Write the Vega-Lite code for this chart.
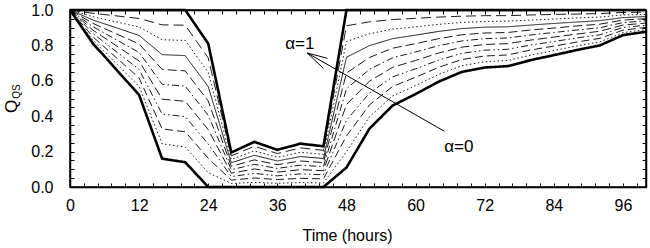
{
  "$schema": "https://vega.github.io/schema/vega-lite/v6.json",
  "width": 576,
  "height": 177,
  "autosize": "none",
  "padding": {"left": 70, "top": 10, "right": 4, "bottom": 61},
  "background": "white",
  "config": {
    "view": {"stroke": "black", "strokeWidth": 1.5},
    "font": "Liberation Sans",
    "axis": {
      "grid": false,
      "domainColor": "black",
      "domainWidth": 1.5,
      "tickColor": "black",
      "tickWidth": 1,
      "tickSize": -4,
      "labelFont": "Liberation Sans",
      "labelFontSize": 16,
      "labelColor": "black",
      "labelOverlap": false,
      "labelFlush": false,
      "titleFont": "Liberation Sans",
      "titleFontWeight": "normal",
      "titleColor": "black"
    }
  },
  "layer": [
    {
      "data": {"values": [
        {"a":"0","t":0,"q":1},{"a":"0","t":4,"q":0.81},{"a":"0","t":8,"q":0.665},{"a":"0","t":12,"q":0.52},{"a":"0","t":16,"q":0.16},{"a":"0","t":20,"q":0.14},{"a":"0","t":24,"q":0},{"a":"0","t":28,"q":0},{"a":"0","t":32,"q":0},{"a":"0","t":36,"q":0},{"a":"0","t":40,"q":0},{"a":"0","t":44,"q":0},{"a":"0","t":48,"q":0.11},{"a":"0","t":52,"q":0.33},{"a":"0","t":56,"q":0.46},{"a":"0","t":60,"q":0.525},{"a":"0","t":64,"q":0.595},{"a":"0","t":68,"q":0.65},{"a":"0","t":72,"q":0.675},{"a":"0","t":76,"q":0.683},{"a":"0","t":80,"q":0.717},{"a":"0","t":84,"q":0.745},{"a":"0","t":88,"q":0.774},{"a":"0","t":92,"q":0.8},{"a":"0","t":96,"q":0.858},{"a":"0","t":100,"q":0.877},
        {"a":"0.1","t":0,"q":1},{"a":"0.1","t":4,"q":0.829},{"a":"0.1","t":8,"q":0.699},{"a":"0.1","t":12,"q":0.568},{"a":"0.1","t":16,"q":0.244},{"a":"0.1","t":20,"q":0.226},{"a":"0.1","t":24,"q":0.081},{"a":"0.1","t":28,"q":0.02},{"a":"0.1","t":32,"q":0.026},{"a":"0.1","t":36,"q":0.021},{"a":"0.1","t":40,"q":0.025},{"a":"0.1","t":44,"q":0.023},{"a":"0.1","t":48,"q":0.199},{"a":"0.1","t":52,"q":0.397},{"a":"0.1","t":56,"q":0.514},{"a":"0.1","t":60,"q":0.573},{"a":"0.1","t":64,"q":0.636},{"a":"0.1","t":68,"q":0.685},{"a":"0.1","t":72,"q":0.708},{"a":"0.1","t":76,"q":0.715},{"a":"0.1","t":80,"q":0.745},{"a":"0.1","t":84,"q":0.771},{"a":"0.1","t":88,"q":0.797},{"a":"0.1","t":92,"q":0.82},{"a":"0.1","t":96,"q":0.872},{"a":"0.1","t":100,"q":0.889},
        {"a":"0.2","t":0,"q":1},{"a":"0.2","t":4,"q":0.848},{"a":"0.2","t":8,"q":0.732},{"a":"0.2","t":12,"q":0.616},{"a":"0.2","t":16,"q":0.328},{"a":"0.2","t":20,"q":0.312},{"a":"0.2","t":24,"q":0.162},{"a":"0.2","t":28,"q":0.039},{"a":"0.2","t":32,"q":0.051},{"a":"0.2","t":36,"q":0.042},{"a":"0.2","t":40,"q":0.049},{"a":"0.2","t":44,"q":0.046},{"a":"0.2","t":48,"q":0.288},{"a":"0.2","t":52,"q":0.464},{"a":"0.2","t":56,"q":0.568},{"a":"0.2","t":60,"q":0.62},{"a":"0.2","t":64,"q":0.676},{"a":"0.2","t":68,"q":0.72},{"a":"0.2","t":72,"q":0.74},{"a":"0.2","t":76,"q":0.746},{"a":"0.2","t":80,"q":0.774},{"a":"0.2","t":84,"q":0.796},{"a":"0.2","t":88,"q":0.819},{"a":"0.2","t":92,"q":0.84},{"a":"0.2","t":96,"q":0.886},{"a":"0.2","t":100,"q":0.902},
        {"a":"0.3","t":0,"q":1},{"a":"0.3","t":4,"q":0.867},{"a":"0.3","t":8,"q":0.766},{"a":"0.3","t":12,"q":0.664},{"a":"0.3","t":16,"q":0.412},{"a":"0.3","t":20,"q":0.398},{"a":"0.3","t":24,"q":0.243},{"a":"0.3","t":28,"q":0.059},{"a":"0.3","t":32,"q":0.077},{"a":"0.3","t":36,"q":0.063},{"a":"0.3","t":40,"q":0.074},{"a":"0.3","t":44,"q":0.069},{"a":"0.3","t":48,"q":0.377},{"a":"0.3","t":52,"q":0.531},{"a":"0.3","t":56,"q":0.622},{"a":"0.3","t":60,"q":0.668},{"a":"0.3","t":64,"q":0.717},{"a":"0.3","t":68,"q":0.755},{"a":"0.3","t":72,"q":0.773},{"a":"0.3","t":76,"q":0.778},{"a":"0.3","t":80,"q":0.802},{"a":"0.3","t":84,"q":0.822},{"a":"0.3","t":88,"q":0.842},{"a":"0.3","t":92,"q":0.86},{"a":"0.3","t":96,"q":0.901},{"a":"0.3","t":100,"q":0.914},
        {"a":"0.4","t":0,"q":1},{"a":"0.4","t":4,"q":0.886},{"a":"0.4","t":8,"q":0.799},{"a":"0.4","t":12,"q":0.712},{"a":"0.4","t":16,"q":0.496},{"a":"0.4","t":20,"q":0.484},{"a":"0.4","t":24,"q":0.324},{"a":"0.4","t":28,"q":0.078},{"a":"0.4","t":32,"q":0.102},{"a":"0.4","t":36,"q":0.084},{"a":"0.4","t":40,"q":0.098},{"a":"0.4","t":44,"q":0.092},{"a":"0.4","t":48,"q":0.466},{"a":"0.4","t":52,"q":0.598},{"a":"0.4","t":56,"q":0.676},{"a":"0.4","t":60,"q":0.715},{"a":"0.4","t":64,"q":0.757},{"a":"0.4","t":68,"q":0.79},{"a":"0.4","t":72,"q":0.805},{"a":"0.4","t":76,"q":0.81},{"a":"0.4","t":80,"q":0.83},{"a":"0.4","t":84,"q":0.847},{"a":"0.4","t":88,"q":0.864},{"a":"0.4","t":92,"q":0.88},{"a":"0.4","t":96,"q":0.915},{"a":"0.4","t":100,"q":0.926},
        {"a":"0.5","t":0,"q":1},{"a":"0.5","t":4,"q":0.905},{"a":"0.5","t":8,"q":0.833},{"a":"0.5","t":12,"q":0.76},{"a":"0.5","t":16,"q":0.58},{"a":"0.5","t":20,"q":0.57},{"a":"0.5","t":24,"q":0.405},{"a":"0.5","t":28,"q":0.098},{"a":"0.5","t":32,"q":0.128},{"a":"0.5","t":36,"q":0.105},{"a":"0.5","t":40,"q":0.123},{"a":"0.5","t":44,"q":0.115},{"a":"0.5","t":48,"q":0.555},{"a":"0.5","t":52,"q":0.665},{"a":"0.5","t":56,"q":0.73},{"a":"0.5","t":60,"q":0.763},{"a":"0.5","t":64,"q":0.798},{"a":"0.5","t":68,"q":0.825},{"a":"0.5","t":72,"q":0.838},{"a":"0.5","t":76,"q":0.842},{"a":"0.5","t":80,"q":0.859},{"a":"0.5","t":84,"q":0.873},{"a":"0.5","t":88,"q":0.887},{"a":"0.5","t":92,"q":0.9},{"a":"0.5","t":96,"q":0.929},{"a":"0.5","t":100,"q":0.939},
        {"a":"0.6","t":0,"q":1},{"a":"0.6","t":4,"q":0.924},{"a":"0.6","t":8,"q":0.866},{"a":"0.6","t":12,"q":0.808},{"a":"0.6","t":16,"q":0.664},{"a":"0.6","t":20,"q":0.656},{"a":"0.6","t":24,"q":0.486},{"a":"0.6","t":28,"q":0.117},{"a":"0.6","t":32,"q":0.153},{"a":"0.6","t":36,"q":0.126},{"a":"0.6","t":40,"q":0.147},{"a":"0.6","t":44,"q":0.138},{"a":"0.6","t":48,"q":0.644},{"a":"0.6","t":52,"q":0.732},{"a":"0.6","t":56,"q":0.784},{"a":"0.6","t":60,"q":0.81},{"a":"0.6","t":64,"q":0.838},{"a":"0.6","t":68,"q":0.86},{"a":"0.6","t":72,"q":0.87},{"a":"0.6","t":76,"q":0.873},{"a":"0.6","t":80,"q":0.887},{"a":"0.6","t":84,"q":0.898},{"a":"0.6","t":88,"q":0.91},{"a":"0.6","t":92,"q":0.92},{"a":"0.6","t":96,"q":0.943},{"a":"0.6","t":100,"q":0.951},
        {"a":"0.7","t":0,"q":1},{"a":"0.7","t":4,"q":0.943},{"a":"0.7","t":8,"q":0.9},{"a":"0.7","t":12,"q":0.856},{"a":"0.7","t":16,"q":0.748},{"a":"0.7","t":20,"q":0.742},{"a":"0.7","t":24,"q":0.567},{"a":"0.7","t":28,"q":0.137},{"a":"0.7","t":32,"q":0.179},{"a":"0.7","t":36,"q":0.147},{"a":"0.7","t":40,"q":0.172},{"a":"0.7","t":44,"q":0.161},{"a":"0.7","t":48,"q":0.733},{"a":"0.7","t":52,"q":0.799},{"a":"0.7","t":56,"q":0.838},{"a":"0.7","t":60,"q":0.858},{"a":"0.7","t":64,"q":0.879},{"a":"0.7","t":68,"q":0.895},{"a":"0.7","t":72,"q":0.903},{"a":"0.7","t":76,"q":0.905},{"a":"0.7","t":80,"q":0.915},{"a":"0.7","t":84,"q":0.924},{"a":"0.7","t":88,"q":0.932},{"a":"0.7","t":92,"q":0.94},{"a":"0.7","t":96,"q":0.957},{"a":"0.7","t":100,"q":0.963},
        {"a":"0.8","t":0,"q":1},{"a":"0.8","t":4,"q":0.962},{"a":"0.8","t":8,"q":0.933},{"a":"0.8","t":12,"q":0.904},{"a":"0.8","t":16,"q":0.832},{"a":"0.8","t":20,"q":0.828},{"a":"0.8","t":24,"q":0.648},{"a":"0.8","t":28,"q":0.156},{"a":"0.8","t":32,"q":0.204},{"a":"0.8","t":36,"q":0.168},{"a":"0.8","t":40,"q":0.196},{"a":"0.8","t":44,"q":0.184},{"a":"0.8","t":48,"q":0.822},{"a":"0.8","t":52,"q":0.866},{"a":"0.8","t":56,"q":0.892},{"a":"0.8","t":60,"q":0.905},{"a":"0.8","t":64,"q":0.919},{"a":"0.8","t":68,"q":0.93},{"a":"0.8","t":72,"q":0.935},{"a":"0.8","t":76,"q":0.937},{"a":"0.8","t":80,"q":0.943},{"a":"0.8","t":84,"q":0.949},{"a":"0.8","t":88,"q":0.955},{"a":"0.8","t":92,"q":0.96},{"a":"0.8","t":96,"q":0.972},{"a":"0.8","t":100,"q":0.975},
        {"a":"0.9","t":0,"q":1},{"a":"0.9","t":4,"q":0.981},{"a":"0.9","t":8,"q":0.967},{"a":"0.9","t":12,"q":0.952},{"a":"0.9","t":16,"q":0.916},{"a":"0.9","t":20,"q":0.914},{"a":"0.9","t":24,"q":0.729},{"a":"0.9","t":28,"q":0.176},{"a":"0.9","t":32,"q":0.23},{"a":"0.9","t":36,"q":0.189},{"a":"0.9","t":40,"q":0.221},{"a":"0.9","t":44,"q":0.207},{"a":"0.9","t":48,"q":0.911},{"a":"0.9","t":52,"q":0.933},{"a":"0.9","t":56,"q":0.946},{"a":"0.9","t":60,"q":0.953},{"a":"0.9","t":64,"q":0.96},{"a":"0.9","t":68,"q":0.965},{"a":"0.9","t":72,"q":0.968},{"a":"0.9","t":76,"q":0.968},{"a":"0.9","t":80,"q":0.972},{"a":"0.9","t":84,"q":0.975},{"a":"0.9","t":88,"q":0.977},{"a":"0.9","t":92,"q":0.98},{"a":"0.9","t":96,"q":0.986},{"a":"0.9","t":100,"q":0.988},
        {"a":"1","t":0,"q":1},{"a":"1","t":4,"q":1},{"a":"1","t":8,"q":1},{"a":"1","t":12,"q":1},{"a":"1","t":16,"q":1},{"a":"1","t":20,"q":1},{"a":"1","t":24,"q":0.81},{"a":"1","t":28,"q":0.195},{"a":"1","t":32,"q":0.255},{"a":"1","t":36,"q":0.21},{"a":"1","t":40,"q":0.245},{"a":"1","t":44,"q":0.23},{"a":"1","t":48,"q":1},{"a":"1","t":52,"q":1},{"a":"1","t":56,"q":1},{"a":"1","t":60,"q":1},{"a":"1","t":64,"q":1},{"a":"1","t":68,"q":1},{"a":"1","t":72,"q":1},{"a":"1","t":76,"q":1},{"a":"1","t":80,"q":1},{"a":"1","t":84,"q":1},{"a":"1","t":88,"q":1},{"a":"1","t":92,"q":1},{"a":"1","t":96,"q":1},{"a":"1","t":100,"q":1}
      ]},
      "mark": {"type": "line", "color": "black", "strokeJoin": "miter"},
      "encoding": {
        "x": {"field": "t", "type": "quantitative",
          "scale": {"domain": [0, 100], "nice": false, "zero": false},
          "axis": {"orient": "bottom",
            "values": [0,2.4,4.8,7.2,9.6,12,14.4,16.8,19.2,21.6,24,26.4,28.8,31.2,33.6,36,38.4,40.8,43.2,45.6,48,50.4,52.8,55.2,57.6,60,62.4,64.8,67.2,69.6,72,74.4,76.8,79.2,81.6,84,86.4,88.8,91.2,93.6,96,98.4],
            "labelExpr": "indexof([0,12,24,36,48,60,72,84,96], datum.value) >= 0 ? datum.label : ''",
            "labelPadding": 14,
            "title": "Time (hours)", "titleFontSize": 16, "titleX": 277, "titleY": 53, "titleBaseline": "alphabetic"}},
        "y": {"field": "q", "type": "quantitative",
          "scale": {"domain": [0, 1], "nice": false},
          "axis": {"orient": "left",
            "values": [0,0.05,0.1,0.15,0.2,0.25,0.3,0.35,0.4,0.45,0.5,0.55,0.6,0.65,0.7,0.75,0.8,0.85,0.9,0.95,1],
            "format": ".1f",
            "labelExpr": "indexof([0,0.2,0.4,0.6,0.8,1], datum.value) >= 0 ? datum.label : ''",
            "labelPadding": 21,
            "title": "Q", "titleFontSize": 17, "titleAngle": 270, "titleX": -59, "titleY": 96, "titleBaseline": "middle", "titleAlign": "center"}},
        "detail": {"field": "a", "type": "nominal"},
        "strokeDash": {"field": "a", "type": "nominal",
          "scale": {"domain": ["0","0.1","0.2","0.3","0.4","0.5","0.6","0.7","0.8","0.9","1"],
            "range": [[1,0],[1.5,2.5],[8,4],[7,3,1.5,3,1.5,3],[9,4],[7,3,1.5,3],[9,4],[1,0],[1.5,2.5],[10,5],[1,0]]},
          "legend": null},
        "strokeWidth": {"field": "a", "type": "nominal",
          "scale": {"type": "ordinal", "domain": ["0","0.1","0.2","0.3","0.4","0.5","0.6","0.7","0.8","0.9","1"],
            "range": [2.6,0.9,0.9,0.9,0.9,0.9,0.9,0.9,0.9,0.9,2.6]},
          "legend": null}
      }
    },
    {
      "data": {"values": [
        {"label": "α=1", "x": 39.9, "y": 0.807},
        {"label": "α=0", "x": 67.5, "y": 0.226}
      ]},
      "mark": {"type": "text", "fontSize": 17, "font": "Liberation Sans", "color": "black", "align": "center", "baseline": "middle"},
      "encoding": {
        "x": {"field": "x", "type": "quantitative",
          "axis": {"orient": "top", "labels": false, "title": null,
            "values": [0,2.4,4.8,7.2,9.6,12,14.4,16.8,19.2,21.6,24,26.4,28.8,31.2,33.6,36,38.4,40.8,43.2,45.6,48,50.4,52.8,55.2,57.6,60,62.4,64.8,67.2,69.6,72,74.4,76.8,79.2,81.6,84,86.4,88.8,91.2,93.6,96,98.4]}},
        "y": {"field": "y", "type": "quantitative",
          "axis": {"orient": "right", "labels": false,
            "values": [0,0.05,0.1,0.15,0.2,0.25,0.3,0.35,0.4,0.45,0.5,0.55,0.6,0.65,0.7,0.75,0.8,0.85,0.9,0.95,1],
            "title": "QS", "titleFontSize": 10, "titleAngle": 270, "titleX": -630, "titleY": 81, "titleBaseline": "middle", "titleAlign": "center"}},
        "text": {"field": "label", "type": "nominal"}
      }
    },
    {
      "data": {"values": [
        {"x": 41.2, "y": 0.757, "x2": 65.0, "y2": 0.315},
        {"x": 41.2, "y": 0.757, "x2": 44.7, "y2": 0.727},
        {"x": 41.2, "y": 0.757, "x2": 44.0, "y2": 0.67}
      ]},
      "mark": {"type": "rule", "color": "black", "strokeWidth": 1},
      "encoding": {
        "x": {"field": "x", "type": "quantitative", "axis": null},
        "y": {"field": "y", "type": "quantitative", "axis": null},
        "x2": {"field": "x2"},
        "y2": {"field": "y2"}
      }
    }
  ],
  "resolve": {"axis": {"x": "independent", "y": "independent"}}
}
